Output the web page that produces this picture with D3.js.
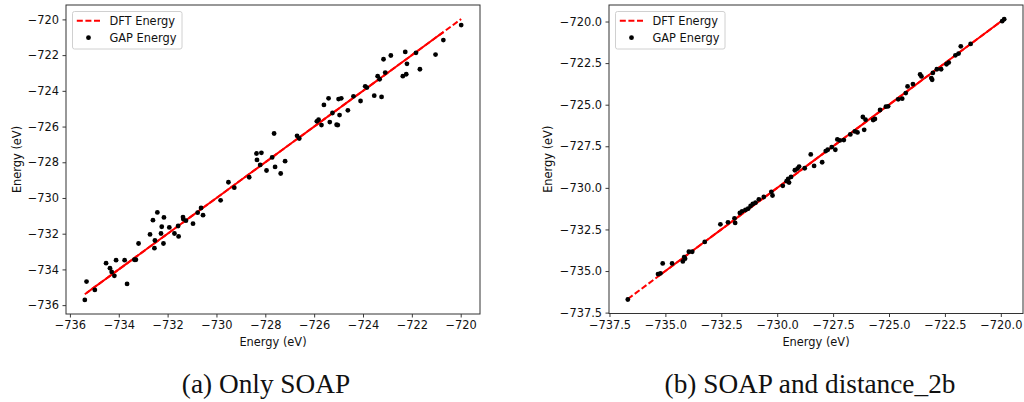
<!DOCTYPE html>
<html>
<head>
<meta charset="utf-8">
<script src="https://cdn.jsdelivr.net/npm/d3@7"></script>
<style>
  html, body { margin: 0; padding: 0; background: #fff; }
  svg { display: block; }
  text { font-family: "DejaVu Sans", sans-serif; }
</style>
</head>
<body>
<svg id="chart" width="1024" height="402"></svg>
<script>
// ---- Data ----
// Panel (a): Only SOAP — DFT energy (x) and GAP energy (y), eV
const dftA = [-735.39,-735.32,-734.98,-734.52,-734.36,-734.29,-734.18,-734.11,-733.76,-733.66,
  -733.36,-733.30,-733.19,-732.72,-732.60,-732.42,-732.54,-732.52,-732.27,-732.24,
  -732.17,-732.15,-731.93,-731.72,-731.57,-731.55,-731.37,-731.36,-731.25,-730.96,
  -730.77,-730.63,-730.55,-729.83,-729.51,-729.27,-728.66,-728.36,-728.16,-728.34,
  -728.21,-727.95,-727.72,-727.64,-727.60,-727.37,-727.19,-726.70,-726.61,-725.89,
  -725.82,-725.70,-725.60,-725.41,-725.36,-725.25,-725.08,-725.03,-725.00,-724.96,
  -724.89,-724.62,-724.39,-724.10,-723.91,-723.84,-723.54,-723.24,-723.40,-723.32,
  -723.16,-723.09,-722.86,-722.37,-722.23,-722.27,-722.20,-721.83,-721.67,-721.03,
  -720.71,-719.98];
const gapA = [-735.71,-734.68,-735.15,-733.65,-733.93,-734.14,-734.36,-733.48,-733.48,-734.81,
  -733.46,-733.46,-732.55,-732.04,-731.24,-730.81,-732.81,-732.38,-731.99,-731.61,
  -732.55,-731.09,-731.65,-731.99,-731.57,-732.15,-731.07,-731.18,-731.27,-731.44,
  -730.82,-730.56,-730.96,-730.13,-729.12,-729.42,-728.84,-727.51,-727.47,-727.87,
  -728.15,-728.46,-727.73,-726.39,-728.26,-728.63,-727.94,-726.52,-726.67,-725.71,
  -725.62,-725.92,-724.79,-724.42,-725.75,-725.24,-725.90,-725.92,-724.46,-725.36,
  -724.42,-725.09,-724.31,-724.57,-723.75,-723.82,-724.27,-724.34,-723.18,-723.35,
  -722.23,-722.98,-722.02,-723.18,-723.07,-721.82,-722.49,-721.87,-722.79,-721.97,
  -721.16,-720.32];

// Panel (b): SOAP and distance_2b
const dftB = [-736.68,-735.33,-735.22,-735.12,-734.70,-734.22,-734.16,-734.12,-733.95,-733.80,
  -733.24,-732.54,-732.20,-731.91,-731.88,-731.67,-731.57,-731.42,-731.30,-731.19,
  -731.09,-730.97,-730.82,-730.60,-730.26,-730.21,-729.75,-729.58,-729.51,-729.47,
  -729.38,-729.21,-729.09,-729.02,-728.77,-728.50,-728.35,-727.99,-727.83,-727.74,
  -727.56,-727.40,-727.31,-727.20,-727.02,-726.73,-726.53,-726.41,-726.17,-726.05,
  -726.11,-725.71,-725.63,-725.40,-725.14,-725.04,-724.59,-724.41,-724.25,-724.17,
  -723.93,-723.61,-723.55,-723.11,-723.07,-723.04,-722.86,-722.67,-722.43,-722.33,
  -722.03,-721.89,-721.79,-721.35,-719.94,-719.85];
const gapB = [-736.71,-735.18,-735.14,-734.54,-734.54,-734.42,-734.16,-734.26,-733.84,-733.84,
  -733.25,-732.19,-732.07,-731.83,-732.11,-731.51,-731.41,-731.33,-731.25,-731.09,
  -730.97,-730.89,-730.69,-730.55,-730.24,-730.46,-729.88,-729.60,-729.46,-729.68,
  -729.34,-728.94,-728.84,-728.72,-728.82,-727.99,-728.68,-728.46,-727.79,-727.71,
  -727.55,-727.71,-727.09,-727.15,-727.13,-726.79,-726.61,-726.67,-725.74,-725.90,
  -726.51,-725.92,-725.86,-725.32,-725.12,-725.10,-724.68,-724.64,-724.30,-723.90,
  -723.76,-723.18,-723.30,-723.40,-723.50,-723.09,-722.87,-722.87,-722.57,-722.47,
  -722.03,-721.93,-721.49,-721.35,-719.98,-719.86];

// Tick values
const ticksA = [-736,-734,-732,-730,-728,-726,-724,-722,-720];
const ticksB = [-737.5,-735.0,-732.5,-730.0,-727.5,-725.0,-722.5,-720.0];

// Texts
const seriesNames = ["DFT Energy", "GAP Energy"];
const axisLabel = "Energy (eV)";
const captions = ["(a) Only SOAP", "(b) SOAP and distance_2b"];

// ---- Drawing ----
const svg = d3.select("#chart");
const FS = "11.4px";

function padded(ext) {
  const r = ext[1] - ext[0];
  return [ext[0] - 0.05 * r, ext[1] + 0.05 * r];
}

function panel(cfg) {
  const { left, top, width, height, dft, gap, ticks, fmt, caption, ylabelX } = cfg;
  const g = svg.append("g");

  const x = d3.scaleLinear()
    .domain(padded(d3.extent(dft)))
    .range([left, left + width]);
  const y = d3.scaleLinear()
    .domain(padded(d3.extent(dft.concat(gap))))
    .range([top + height, top]);

  // axes
  const xa = g.append("g")
    .attr("transform", `translate(0,${top + height})`)
    .call(d3.axisBottom(x).tickValues(ticks).tickFormat(d3.format(fmt))
      .tickSizeOuter(0).tickSize(3.5).tickPadding(3.5));
  const ya = g.append("g")
    .attr("transform", `translate(${left},0)`)
    .call(d3.axisLeft(y).tickValues(ticks).tickFormat(d3.format(fmt))
      .tickSizeOuter(0).tickSize(3.5).tickPadding(3.5));
  [xa, ya].forEach(a => {
    a.select(".domain").remove();
    a.selectAll(".tick line").attr("stroke", "#222").attr("stroke-width", 0.9);
    a.selectAll(".tick text")
      .attr("fill", "#111")
      .style("font-family", "DejaVu Sans, sans-serif")
      .style("font-size", FS);
  });

  // DFT line (y = DFT), sorted by energy
  const order = d3.range(dft.length).sort((a, b) => dft[a] - dft[b]);
  const linePts = order.map(i => [x(dft[i]), y(dft[i])]);
  const line = d3.line();
  g.append("path")
    .attr("d", line(linePts))
    .attr("fill", "none")
    .attr("stroke", "#ff0000")
    .attr("stroke-width", 2)
    .attr("stroke-dasharray", "6,2.6");
  g.append("path")
    .attr("d", line(linePts.slice(1, linePts.length - 1)))
    .attr("fill", "none")
    .attr("stroke", "#ff0000")
    .attr("stroke-width", 2);

  // GAP points
  g.append("g").selectAll("circle")
    .data(d3.range(dft.length))
    .join("circle")
    .attr("cx", i => x(dft[i]))
    .attr("cy", i => y(gap[i]))
    .attr("r", 2.4)
    .attr("fill", "#000");

  // frame
  g.append("rect")
    .attr("x", left).attr("y", top)
    .attr("width", width).attr("height", height)
    .attr("fill", "none")
    .attr("stroke", "#333")
    .attr("stroke-width", 1);

  // legend
  const lg = g.append("g").attr("transform", `translate(${left + 6.5},${top + 6.5})`);
  lg.append("rect")
    .attr("x", 0).attr("y", 0)
    .attr("width", 109.5).attr("height", 37.5)
    .attr("rx", 2).attr("ry", 2)
    .attr("fill", "#fff").attr("fill-opacity", 0.8)
    .attr("stroke", "#d0d0d0").attr("stroke-width", 1);
  lg.append("line")
    .attr("x1", 4.3).attr("x2", 27.5)
    .attr("y1", 9.3).attr("y2", 9.3)
    .attr("stroke", "#ff0000").attr("stroke-width", 2)
    .attr("stroke-dasharray", "6,2.6");
  lg.append("circle")
    .attr("cx", 16).attr("cy", 26.2).attr("r", 2.4).attr("fill", "#000");
  lg.selectAll("text.lt")
    .data(seriesNames)
    .join("text")
    .attr("class", "lt")
    .attr("x", 37)
    .attr("y", (d, i) => 13.3 + i * 17)
    .attr("font-size", FS)
    .attr("fill", "#111")
    .text(d => d);

  // axis labels
  g.append("text")
    .attr("x", left + width / 2)
    .attr("y", 346)
    .attr("text-anchor", "middle")
    .attr("font-size", FS)
    .attr("fill", "#111")
    .text(axisLabel);
  g.append("text")
    .attr("transform", `translate(${ylabelX},${top + height / 2}) rotate(-90)`)
    .attr("text-anchor", "middle")
    .attr("font-size", FS)
    .attr("fill", "#111")
    .text(axisLabel);

  // caption
  g.append("text")
    .attr("x", cfg.capX)
    .attr("y", 393)
    .attr("text-anchor", "middle")
    .style("font-family", "'Liberation Serif', 'DejaVu Serif', serif")
    .style("font-size", "27.3px")
    .attr("fill", "#111")
    .text(caption);
}

panel({ left: 66, top: 5, width: 414, height: 309, dft: dftA, gap: gapA,
        ticks: ticksA, fmt: "d", caption: captions[0], ylabelX: 20.5, capX: 266 });
panel({ left: 609, top: 5, width: 414, height: 308.5, dft: dftB, gap: gapB,
        ticks: ticksB, fmt: ".1f", caption: captions[1], ylabelX: 552, capX: 810 });
</script>
</body>
</html>
